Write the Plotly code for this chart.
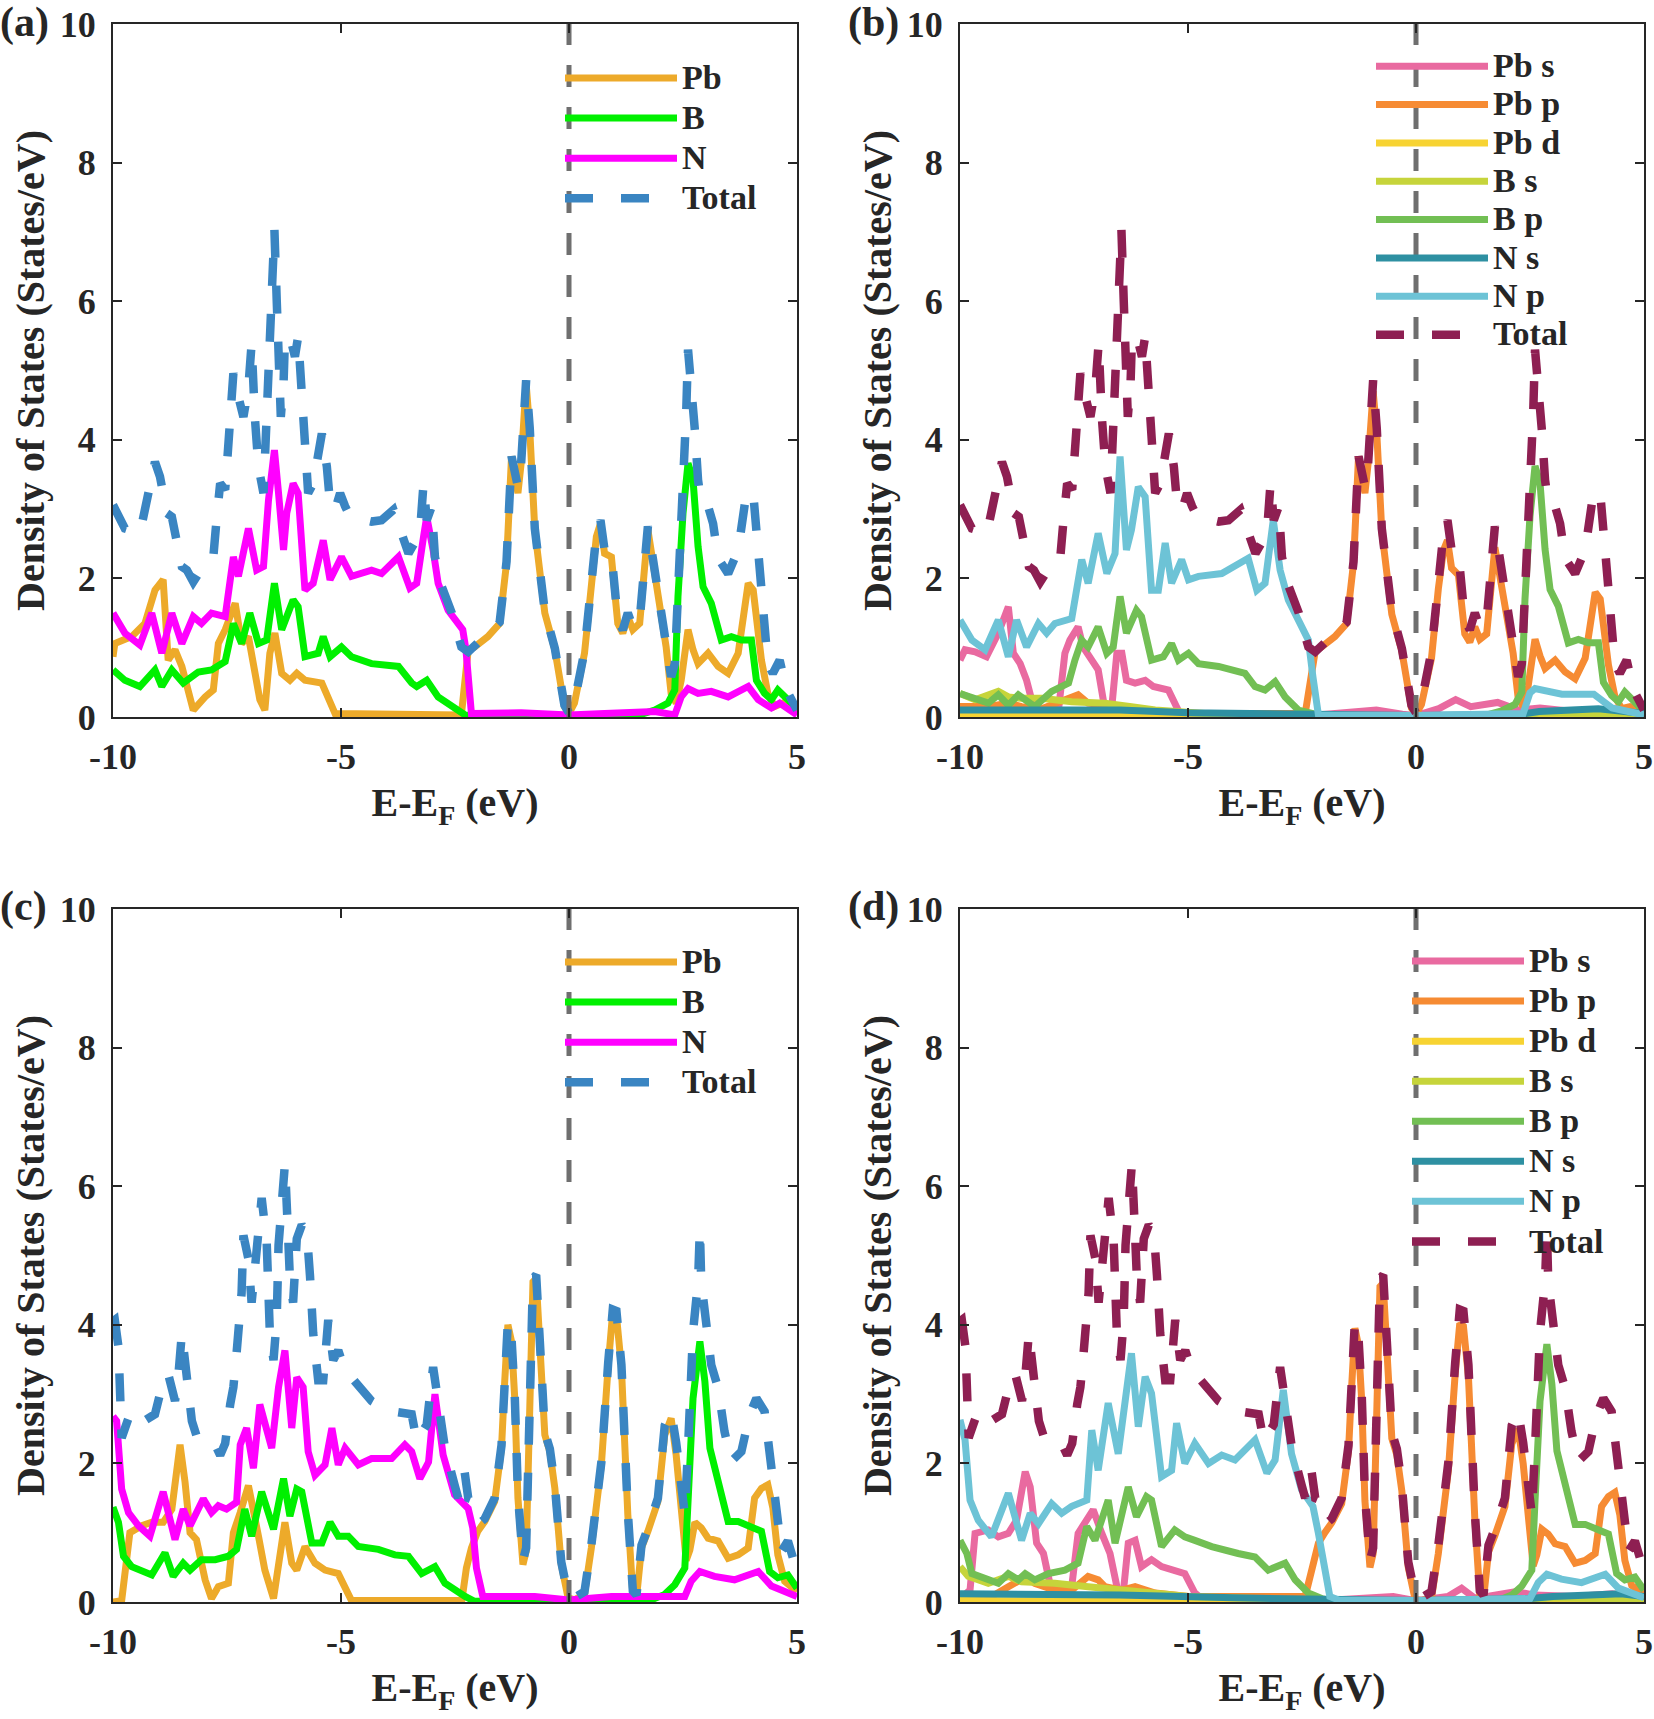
import plotly.graph_objects as go

# ---------------- data ----------------
# panel (a): elemental PDOS, structure 1
A_PB_E = [-10, -9.96, -9.59, -9.30, -9.08, -8.90, -8.79, -8.64, -8.49, -8.24, -7.98, -7.80, -7.69, -7.54,
          -7.32, -7.18, -7.03, -6.92, -6.78, -6.67, -6.56, -6.45, -6.30, -6.12, -5.97, -5.79, -5.42, -5.13,
          -2.50, -2.36, -2.21, -2.07, -1.78, -1.52, -1.37, -1.26, -1.12, -1.05, -0.94, -0.86, -0.75, -0.53,
          -0.31, -0.10, 0.0, 0.12, 0.34, 0.49, 0.60, 0.69, 0.78, 0.93, 1.07, 1.18, 1.29, 1.40, 1.55, 1.73,
          1.84, 1.95, 2.13, 2.24, 2.35, 2.46, 2.61, 2.72, 2.83, 3.05, 3.27, 3.49, 3.71, 3.93, 4.04, 4.22,
          4.36, 4.51, 4.69, 5.0]
A_PB = [0.87, 1.06, 1.16, 1.35, 1.83, 1.98, 0.82, 0.97, 0.73, 0.10, 0.29, 0.39, 1.06, 1.26,
        1.64, 1.06, 1.16, 0.77, 0.25, 0.10, 0.92, 1.21, 0.63, 0.53, 0.63, 0.53, 0.49, 0.05,
        0.05, 0.03, 0.97, 1.01, 1.16, 1.35, 2.22, 3.76, 3.23, 3.66, 4.81, 4.14, 2.70, 1.50,
        0.97, 0.15, 0.05, 0.20, 0.92, 1.98, 2.60, 2.79, 2.36, 2.31, 1.35, 1.21, 1.45, 1.26, 1.35, 2.70,
        2.22, 1.78, 1.01, 0.34, 0.20, 0.53, 1.26, 0.97, 0.77, 0.92, 0.73, 0.63, 0.92, 1.93, 1.83, 0.82,
        0.34, 0.15, 0.20, 0.10]

A_B_E = [-10, -9.74, -9.41, -9.08, -8.93, -8.71, -8.46, -8.13, -7.84, -7.54, -7.36, -7.18, -7.00, -6.81,
         -6.63, -6.46, -6.30, -6.05, -5.94, -5.79, -5.50, -5.39, -5.24, -4.99, -4.77, -4.33, -3.74, -3.45,
         -3.34, -3.12, -2.87, -2.57, -2.28, -2.10, 0.0, 1.50, 1.88, 2.17, 2.32, 2.39, 2.50, 2.61, 2.72,
         2.83, 2.94, 3.12, 3.34, 3.56, 3.78, 4.00, 4.11, 4.29, 4.44, 4.58, 4.80, 5.0]
A_B = [0.68, 0.53, 0.44, 0.68, 0.44, 0.68, 0.49, 0.65, 0.68, 0.80, 1.35, 1.06, 1.50, 1.06,
       1.11, 1.93, 1.26, 1.69, 1.59, 0.87, 0.92, 1.16, 0.87, 1.01, 0.87, 0.77, 0.73, 0.49,
       0.44, 0.53, 0.29, 0.15, 0.03, 0.01, 0.01, 0.02, 0.10, 0.20, 0.39, 1.74, 2.94, 3.66, 3.42,
       2.46, 1.88, 1.64, 1.11, 1.16, 1.11, 1.11, 0.53, 0.34, 0.25, 0.39, 0.25, 0.10]

A_N_E = [-10, -9.74, -9.41, -9.15, -8.93, -8.71, -8.49, -8.24, -8.06, -7.84, -7.54, -7.36, -7.25, -7.03,
         -6.85, -6.70, -6.59, -6.46, -6.37, -6.26, -6.19, -6.05, -5.94, -5.79, -5.61, -5.39, -5.24, -4.99,
         -4.77, -4.33, -4.11, -3.74, -3.49, -3.34, -3.19, -3.12, -2.98, -2.87, -2.65, -2.45, -2.33, -2.26,
         -2.14, -1.05, 0.0, 0.78, 1.88, 2.32, 2.46, 2.61, 2.83, 3.12, 3.49, 3.93, 4.15, 4.44, 4.62, 5.0]
A_N = [1.50, 1.21, 1.04, 1.50, 0.92, 1.50, 1.06, 1.45, 1.35, 1.50, 1.45, 2.31, 2.03, 2.72,
       2.12, 2.17, 3.13, 3.85, 3.23, 2.41, 2.94, 3.37, 3.23, 1.83, 1.93, 2.55, 1.98, 2.31,
       2.03, 2.12, 2.07, 2.31, 1.86, 1.93, 2.60, 2.89, 2.41, 1.93, 1.54, 1.38, 1.26, 0.97,
       0.05, 0.06, 0.03, 0.05, 0.08, 0.03, 0.29, 0.41, 0.34, 0.37, 0.29, 0.44, 0.25, 0.13, 0.20, 0.03]

A_TOT_E = [-10, -9.74, -9.41, -9.23, -9.08, -8.97, -8.82, -8.71, -8.57, -8.49, -8.38, -8.24, -7.98, -7.80,
           -7.73, -7.65, -7.54, -7.47, -7.36, -7.25, -7.14, -7.03, -6.96, -6.89, -6.81, -6.70, -6.61, -6.58,
           -6.52, -6.46, -6.41, -6.37, -6.32, -6.26, -6.23, -6.12, -6.01, -5.94, -5.86, -5.79, -5.72, -5.61,
           -5.50, -5.42, -5.31, -5.24, -5.13, -5.02, -4.91, -4.80, -4.33, -4.11, -3.85, -3.67, -3.52, -3.27,
           -3.19, -3.12, -3.01, -2.94, -2.79, -2.57, -2.36, -2.21, -2.07, -1.78, -1.52, -1.37, -1.26, -1.12,
           -1.05, -0.94, -0.86, -0.75, -0.53, -0.31, -0.10, 0.0, 0.12, 0.34, 0.49, 0.60, 0.69, 0.78, 0.93,
           1.07, 1.18, 1.29, 1.40, 1.55, 1.73, 1.84, 1.95, 2.13, 2.24, 2.32, 2.43, 2.50, 2.57, 2.61, 2.68,
           2.76, 2.83, 2.90, 3.05, 3.16, 3.27, 3.49, 3.71, 3.89, 4.04, 4.15, 4.25, 4.36, 4.47, 4.62, 4.77, 5.0]
A_TOT = [3.06, 2.72, 2.65, 3.23, 3.68, 3.47, 2.94, 2.89, 2.41, 2.17, 2.12, 1.95, 2.22, 2.31,
         2.84, 3.37, 3.28, 3.90, 4.96, 4.62, 4.33, 4.77, 5.39, 4.33, 3.61, 3.23, 4.67, 5.44,
         6.40, 7.03, 6.02, 5.15, 4.33, 4.81, 5.44, 5.49, 5.20, 5.49, 4.57, 3.71, 3.23, 3.37,
         3.90, 4.09, 3.61, 3.08, 2.99, 3.23, 3.04, 2.89, 2.82, 2.84, 2.99, 2.65, 2.36, 2.65,
         3.37, 2.84, 3.04, 2.31, 1.88, 1.50, 1.01, 0.94, 1.03, 1.18, 1.37, 2.24, 3.76, 3.32,
         3.66, 4.86, 4.16, 2.72, 1.52, 0.99, 0.17, 0.06, 0.22, 0.95, 2.02, 2.64, 2.84, 2.41, 2.36,
         1.40, 1.26, 1.50, 1.30, 1.40, 2.75, 2.31, 1.84, 1.11, 0.58, 0.77, 2.22, 3.42, 4.38, 5.30, 4.86,
         4.14, 3.42, 3.08, 3.04, 2.79, 2.29, 2.07, 2.41, 3.23, 3.23, 2.31, 1.50, 0.77, 0.63, 0.82, 0.39, 0.10]

# panel (b): orbital PDOS, structure 1 (total is the same curve as panel a)
B_PBS_E = [-10, -9.89, -9.67, -9.42, -9.16, -8.94, -8.83, -8.68, -8.54, -8.39, -8.21, -7.84, -7.70, -7.59,
           -7.41, -7.30, -7.11, -6.97, -6.82, -6.67, -6.56, -6.45, -6.35, -6.16, -5.94, -5.76, -5.43, -5.29,
           -5.18, -2.30, -0.87, -0.30, 0.0, 0.50, 0.87, 1.20, 1.79, 2.25, 2.72, 3.87, 5.0]
B_PBS = [0.82, 0.97, 0.94, 0.87, 1.21, 1.59, 0.92, 0.77, 0.53, 0.15, 0.10, 0.10, 0.92, 1.11,
         1.30, 1.01, 0.82, 0.68, 0.10, 0.15, 0.92, 0.92, 0.53, 0.49, 0.53, 0.44, 0.39, 0.20,
         0.05, 0.02, 0.10, 0.04, 0.02, 0.12, 0.25, 0.15, 0.21, 0.10, 0.13, 0.05, 0.03]

B_PBP_E = [-10, -9.38, -8.94, -8.65, -8.21, -7.41, -7.19, -6.45, -6.09, -4.99, -2.43, -2.29, -2.21, -2.07,
           -1.78, -1.52, -1.37, -1.26, -1.12, -1.05, -0.94, -0.86, -0.75, -0.53, -0.31, -0.10, 0.0, 0.12,
           0.34, 0.49, 0.60, 0.69, 0.78, 0.93, 1.07, 1.18, 1.29, 1.40, 1.55, 1.73, 1.84, 1.95, 2.13, 2.24,
           2.35, 2.46, 2.61, 2.72, 2.83, 3.05, 3.27, 3.49, 3.71, 3.93, 4.04, 4.22, 4.36, 4.51, 4.69, 5.0]
B_PBP = [0.15, 0.15, 0.20, 0.15, 0.12, 0.32, 0.20, 0.15, 0.10, 0.05, 0.05, 0.68, 0.95, 1.01,
         1.16, 1.35, 2.22, 3.76, 3.23, 3.66, 4.70, 4.10, 2.68, 1.48, 0.95, 0.13, 0.04, 0.18,
         0.85, 1.85, 2.40, 2.55, 2.15, 2.05, 1.20, 1.08, 1.30, 1.12, 1.20, 2.45, 2.00, 1.60, 0.92, 0.28,
         0.15, 0.45, 1.12, 0.88, 0.70, 0.82, 0.65, 0.55, 0.85, 1.80, 1.70, 0.75, 0.30, 0.12, 0.15, 0.06]

B_PBD_E = [-10, -5, 0, 3, 4, 4.5, 5]
B_PBD = [0.02, 0.02, 0.01, 0.02, 0.05, 0.03, 0.02]

B_BS_E = [-10, -9.67, -9.16, -8.94, -8.65, -8.21, -7.55, -6.82, -6.24, -5.72, -4.63, -2.43, -2.0, 2.3,
          2.7, 4.0, 5.0]
B_BS = [0.34, 0.25, 0.37, 0.29, 0.27, 0.27, 0.22, 0.20, 0.15, 0.10, 0.05, 0.03, 0.01, 0.01,
        0.06, 0.05, 0.02]

B_BP_E = [-10, -9.38, -9.16, -8.94, -8.72, -8.36, -7.99, -7.62, -7.48, -7.33, -7.19, -6.97, -6.78, -6.64,
          -6.49, -6.35, -6.13, -6.02, -5.80, -5.54, -5.36, -5.21, -4.99, -4.77, -4.33, -3.75, -3.53, -3.31,
          -3.09, -2.87, -2.58, -2.21, -2.0, 1.5, 1.88, 2.17, 2.32, 2.39, 2.50, 2.61, 2.72, 2.83, 2.94, 3.12,
          3.34, 3.56, 3.78, 4.0, 4.11, 4.29, 4.44, 4.58, 4.80, 5.0]
B_BP = [0.34, 0.20, 0.32, 0.17, 0.32, 0.15, 0.37, 0.49, 0.82, 1.11, 1.01, 1.30, 0.92, 1.01,
        1.74, 1.21, 1.54, 1.45, 0.82, 0.87, 1.06, 0.82, 0.92, 0.77, 0.73, 0.63, 0.44, 0.39,
        0.51, 0.29, 0.10, 0.03, 0.01, 0.02, 0.09, 0.18, 0.36, 1.70, 2.90, 3.62, 3.38, 2.42, 1.84, 1.60,
        1.07, 1.12, 1.07, 1.07, 0.50, 0.31, 0.22, 0.36, 0.22, 0.08]

B_NS_E = [-10, -6.5, -5, -2, 0, 2.3, 2.7, 4.0, 4.5, 5]
B_NS = [0.10, 0.10, 0.06, 0.04, 0.02, 0.04, 0.08, 0.12, 0.08, 0.05]

B_NP_E = [-10, -9.74, -9.45, -9.16, -8.94, -8.76, -8.54, -8.28, -8.10, -7.92, -7.55, -7.33, -7.19, -6.97,
          -6.78, -6.60, -6.49, -6.35, -6.24, -6.09, -5.94, -5.80, -5.65, -5.50, -5.36, -5.14, -4.99, -4.77,
          -4.26, -3.90, -3.68, -3.49, -3.31, -3.13, -2.98, -2.80, -2.58, -2.36, -2.26, -2.14, 0.0, 2.0,
          2.35, 2.50, 2.61, 3.2, 3.9, 4.3, 5.0]
B_NP = [1.40, 1.11, 0.97, 1.40, 0.87, 1.40, 1.01, 1.35, 1.21, 1.35, 1.42, 2.27, 1.93, 2.65,
        2.07, 2.36, 3.76, 2.41, 2.70, 3.32, 3.18, 1.83, 1.83, 2.51, 1.93, 2.27, 1.98, 2.03,
        2.07, 2.22, 2.29, 1.83, 1.93, 2.84, 2.12, 1.69, 1.40, 1.11, 0.58, 0.03, 0.02, 0.03,
        0.05, 0.35, 0.41, 0.33, 0.33, 0.13, 0.03]

# panel (c): elemental PDOS, structure 2
C_PB_E = [-10, -9.81, -9.63, -9.37, -9.15, -8.90, -8.71, -8.53, -8.42, -8.31, -8.17, -7.98, -7.84, -7.69,
          -7.47, -7.36, -7.21, -7.03, -6.81, -6.67, -6.48, -6.34, -6.23, -6.08, -5.97, -5.79, -5.57, -5.35,
          -5.06, -4.77, -2.35, -2.25, -2.14, -2.0, -1.85, -1.63, -1.48, -1.41, -1.34, -1.26, -1.19, -1.12,
          -1.01, -0.94, -0.86, -0.79, -0.72, -0.64, -0.53, -0.42, -0.31, -0.17, -0.02, 0.12, 0.34, 0.49,
          0.71, 0.86, 0.96, 1.04, 1.15, 1.29, 1.40, 1.48, 1.59, 1.73, 1.95, 2.10, 2.24, 2.35, 2.46, 2.57,
          2.65, 2.76, 2.90, 3.05, 3.27, 3.49, 3.71, 3.93, 4.07, 4.22, 4.36, 4.47, 4.58, 4.73, 5.0]
C_PB = [0.0, 0.02, 1.0, 1.10, 1.15, 1.15, 1.34, 2.27, 1.73, 1.0, 0.90, 0.32, 0.05, 0.22,
        0.27, 1.0, 1.29, 1.68, 0.95, 0.46, 0.05, 0.61, 1.15, 0.56, 0.46, 0.80, 0.56, 0.46,
        0.41, 0.02, 0.02, 0.49, 0.78, 1.02, 1.16, 1.45, 2.22, 3.18, 4.0, 3.76, 2.94, 1.50,
        0.54, 0.73, 2.70, 4.62, 4.67, 3.66, 2.41, 2.17, 1.64, 0.54, 0.06, 0.03, 0.11, 0.78,
        1.98, 3.42, 4.19, 4.14, 3.38, 1.26, 0.11, 0.06, 0.78, 1.02, 1.45, 2.41, 2.65, 2.12, 1.26, 0.60,
        0.75, 1.15, 1.07, 0.92, 0.88, 0.63, 0.68, 0.78, 1.50, 1.64, 1.69, 1.36, 0.68, 0.30, 0.15]

C_B_E = [-10, -9.88, -9.77, -9.59, -9.15, -8.86, -8.68, -8.46, -8.31, -8.06, -7.76, -7.47, -7.29, -7.11,
         -6.96, -6.74, -6.48, -6.26, -6.12, -5.97, -5.86, -5.64, -5.42, -5.24, -5.06, -4.84, -4.62, -4.18,
         -3.82, -3.52, -3.23, -2.94, -2.72, -2.50, -2.28, -2.07, 1.8, 2.10, 2.32, 2.54, 2.61, 2.72, 2.87,
         2.98, 3.09, 3.27, 3.49, 3.71, 4.0, 4.22, 4.40, 4.58, 4.80, 5.0]
C_B = [1.37, 1.15, 0.66, 0.51, 0.39, 0.71, 0.37, 0.56, 0.46, 0.61, 0.61, 0.66, 0.76, 1.34,
       0.95, 1.59, 1.05, 1.78, 1.24, 1.63, 1.59, 0.85, 0.85, 1.15, 0.95, 0.95, 0.80, 0.76,
       0.68, 0.66, 0.41, 0.51, 0.27, 0.17, 0.08, 0.01, 0.03, 0.11, 0.25, 0.49, 1.50, 2.94, 3.76,
       3.18, 2.22, 1.74, 1.16, 1.16, 1.07, 1.02, 0.44, 0.35, 0.39, 0.20]

C_N_E = [-10, -9.92, -9.81, -9.66, -9.44, -9.19, -8.90, -8.71, -8.64, -8.46, -8.31, -8.02, -7.84, -7.69,
         -7.51, -7.29, -7.21, -7.07, -6.92, -6.78, -6.52, -6.37, -6.23, -6.08, -5.97, -5.83, -5.72, -5.57,
         -5.35, -5.20, -5.06, -4.91, -4.62, -4.33, -3.89, -3.60, -3.45, -3.27, -3.08, -2.94, -2.76, -2.51,
         -2.32, -2.21, -2.11, -2.03, -1.89, -0.75, 0.0, 0.93, 2.54, 2.68, 2.87, 3.19, 3.63, 4.15, 4.44,
         4.73, 5.0]
C_N = [2.68, 2.61, 1.63, 1.29, 1.10, 0.95, 1.59, 1.0, 0.90, 1.34, 1.10, 1.49, 1.29, 1.39,
       1.34, 1.44, 2.27, 2.51, 1.93, 2.85, 2.22, 3.10, 3.63, 2.51, 3.24, 3.10, 2.17, 1.83,
       1.98, 2.51, 1.98, 2.22, 1.98, 2.07, 2.07, 2.27, 2.17, 1.78, 2.02, 3.0, 2.12, 1.55,
       1.40, 1.35, 1.07, 0.49, 0.08, 0.08, 0.03, 0.08, 0.08, 0.30, 0.44, 0.37, 0.32, 0.44, 0.23,
       0.15, 0.08]

C_TOT_E = [-10, -9.96, -9.88, -9.85, -9.81, -9.63, -9.44, -9.08, -8.97, -8.79, -8.64, -8.57, -8.49, -8.38,
           -8.27, -8.13, -7.76, -7.65, -7.54, -7.43, -7.36, -7.29, -7.18, -7.14, -7.03, -6.96, -6.85, -6.74,
           -6.63, -6.59, -6.56, -6.48, -6.41, -6.37, -6.30, -6.23, -6.17, -6.12, -6.05, -5.97, -5.86, -5.75,
           -5.68, -5.61, -5.50, -5.39, -5.28, -5.17, -5.06, -4.91, -4.77, -4.33, -3.96, -3.45, -3.34, -3.12,
           -2.98, -2.87, -2.72, -2.51, -2.43, -2.29, -2.21, -2.03, -1.92, -1.85, -1.63, -1.48, -1.41, -1.34,
           -1.26, -1.19, -1.12, -1.01, -0.94, -0.86, -0.79, -0.72, -0.64, -0.53, -0.42, -0.31, -0.17, -0.02,
           0.12, 0.34, 0.49, 0.71, 0.86, 0.96, 1.04, 1.15, 1.29, 1.40, 1.48, 1.59, 1.73, 1.95, 2.10, 2.24,
           2.35, 2.46, 2.54, 2.61, 2.68, 2.72, 2.83, 2.87, 2.90, 3.01, 3.12, 3.27, 3.41, 3.56, 3.78, 3.96,
           4.11, 4.29, 4.44, 4.55, 4.66, 4.80, 5.0]
C_TOT = [4.05, 4.07, 3.68, 3.10, 2.37, 2.71, 2.56, 2.71, 3.0, 3.29, 2.90, 3.24, 3.88, 3.24,
         2.61, 2.32, 2.27, 2.12, 2.29, 2.85, 3.10, 3.59, 4.46, 5.29, 4.95, 4.32, 5.15, 5.83,
         5.20, 4.46, 3.88, 3.49, 4.07, 5.15, 6.02, 6.32, 5.44, 4.66, 4.32, 5.24, 5.44, 5.34,
         4.71, 3.88, 3.20, 3.20, 4.07, 3.49, 3.63, 3.34, 3.24, 2.90, 2.76, 2.71, 2.32, 2.56,
         3.39, 2.85, 2.22, 1.69, 1.50, 1.88, 1.50, 1.45, 1.16, 1.20, 1.50, 2.26, 3.22, 4.05,
         3.80, 2.98, 1.55, 0.60, 0.78, 2.75, 4.67, 4.72, 3.70, 2.45, 2.21, 1.68, 0.58, 0.10,
         0.06, 0.15, 0.82, 2.02, 3.46, 4.22, 4.20, 3.42, 1.30, 0.16, 0.10, 0.82, 1.06, 1.50, 2.55, 2.75,
         2.30, 1.64, 1.26, 2.22, 3.18, 3.90, 4.62, 5.39, 4.62, 3.90, 3.42, 3.09, 2.46, 2.03, 2.17, 2.70,
         2.94, 2.75, 1.98, 1.40, 0.73, 0.88, 0.44]

# panel (d): orbital PDOS, structure 2 (total is the same curve as panel c)
D_PBS_E = [-10, -9.78, -9.67, -9.38, -9.16, -8.94, -8.76, -8.57, -8.46, -8.32, -8.17, -8.03, -7.84, -7.55,
           -7.41, -7.22, -7.08, -6.89, -6.71, -6.53, -6.42, -6.31, -6.16, -6.02, -5.80, -5.58, -5.29, -5.07,
           -4.85, -4.70, -2.0, -0.5, 0.0, 0.7, 1.0, 1.3, 2.2, 2.6, 3.5, 4.3, 5.0]
D_PBS = [0.05, 0.17, 0.99, 1.04, 0.94, 0.99, 1.18, 1.88, 1.66, 0.85, 0.70, 0.27, 0.13, 0.22,
         0.99, 1.18, 1.33, 0.99, 0.70, 0.13, 0.13, 0.85, 0.89, 0.51, 0.61, 0.51, 0.46, 0.41,
         0.13, 0.05, 0.02, 0.08, 0.02, 0.08, 0.20, 0.05, 0.15, 0.10, 0.08, 0.12, 0.05]

D_PBP_E = [-10, -9.38, -8.94, -8.54, -8.36, -7.92, -7.55, -7.19, -6.97, -6.82, -6.45, -6.16, -5.72, -4.99,
           -2.43, -2.29, -2.14, -2.0, -1.85, -1.63, -1.48, -1.41, -1.34, -1.26, -1.19, -1.12, -1.01, -0.94,
           -0.86, -0.79, -0.72, -0.64, -0.53, -0.42, -0.31, -0.17, -0.02, 0.12, 0.34, 0.49, 0.71, 0.86,
           0.96, 1.04, 1.15, 1.29, 1.40, 1.48, 1.59, 1.73, 1.95, 2.10, 2.24, 2.35, 2.46, 2.57, 2.65, 2.76,
           2.90, 3.05, 3.27, 3.49, 3.71, 3.93, 4.07, 4.22, 4.36, 4.47, 4.58, 4.73, 5.0]
D_PBP = [0.03, 0.05, 0.22, 0.37, 0.27, 0.17, 0.17, 0.37, 0.32, 0.22, 0.17, 0.22, 0.13, 0.08,
         0.08, 0.41, 0.85, 1.00, 1.14, 1.42, 2.18, 3.12, 3.95, 3.70, 2.90, 1.46, 0.50, 0.70,
         2.65, 4.55, 4.60, 3.60, 2.36, 2.12, 1.60, 0.50, 0.04, 0.02, 0.06, 0.70, 1.90, 3.30,
         4.02, 3.98, 3.25, 1.20, 0.08, 0.04, 0.72, 0.96, 1.38, 2.28, 2.50, 2.00, 1.15, 0.52, 0.68, 1.05,
         0.98, 0.84, 0.80, 0.56, 0.60, 0.70, 1.38, 1.52, 1.58, 1.26, 0.60, 0.24, 0.10]

D_PBD_E = [-10, 0, 4, 5]
D_PBD = [0.02, 0.01, 0.04, 0.02]

D_BS_E = [-10, -9.82, -9.38, -8.94, -8.65, -7.92, -7.19, -6.45, -6.02, -4.99, -3.53, -2.0, 2.5, 2.9,
          4.0, 5.0]
D_BS = [0.51, 0.37, 0.27, 0.37, 0.29, 0.27, 0.22, 0.17, 0.13, 0.08, 0.05, 0.01, 0.01, 0.06,
        0.05, 0.03]

D_BP_E = [-10, -9.85, -9.74, -9.38, -9.16, -8.94, -8.72, -8.57, -8.36, -8.06, -7.70, -7.41, -7.22, -7.04,
          -6.75, -6.60, -6.31, -6.13, -5.91, -5.80, -5.58, -5.29, -5.07, -4.85, -4.48, -3.90, -3.53, -3.24,
          -2.87, -2.65, -2.36, -2.07, -1.8, 1.8, 2.10, 2.32, 2.54, 2.61, 2.72, 2.87, 2.98, 3.09, 3.27, 3.49,
          3.71, 4.0, 4.22, 4.40, 4.58, 4.80, 5.0]
D_BP = [0.89, 0.70, 0.41, 0.32, 0.27, 0.41, 0.32, 0.41, 0.32, 0.41, 0.46, 0.56, 1.09, 0.89,
        1.47, 0.85, 1.66, 1.23, 1.52, 1.47, 0.80, 1.04, 0.94, 0.89, 0.80, 0.70, 0.65, 0.46,
        0.56, 0.32, 0.13, 0.05, 0.01, 0.02, 0.10, 0.23, 0.46, 1.46, 2.90, 3.72, 3.14, 2.18, 1.70, 1.12,
        1.12, 1.03, 0.98, 0.41, 0.32, 0.36, 0.17]

D_NS_E = [-10, -6.5, -4, -1.8, 0, 2.5, 3.0, 4.5, 5.0]
D_NS = [0.12, 0.10, 0.06, 0.05, 0.02, 0.05, 0.08, 0.12, 0.08]

D_NP_E = [-10, -9.89, -9.78, -9.60, -9.31, -8.94, -8.65, -8.46, -8.28, -7.99, -7.77, -7.55, -7.22, -7.11,
          -6.97, -6.75, -6.53, -6.31, -6.24, -6.09, -5.94, -5.80, -5.58, -5.36, -5.25, -5.07, -4.85, -4.55,
          -4.26, -3.97, -3.53, -3.27, -3.09, -2.91, -2.73, -2.51, -2.26, -2.14, -2.0, -1.89, -1.70, 0.0,
          2.5, 2.68, 2.87, 3.19, 3.63, 4.15, 4.44, 4.73, 5.0]
D_NP = [2.63, 2.34, 1.47, 1.18, 0.94, 1.57, 0.89, 1.28, 1.13, 1.42, 1.28, 1.38, 1.47, 2.48,
        1.90, 2.87, 2.14, 3.30, 3.59, 2.53, 3.25, 3.01, 1.81, 1.90, 2.58, 2.0, 2.29, 2.0,
        2.12, 2.05, 2.34, 1.86, 2.05, 3.06, 2.14, 1.62, 1.38, 0.99, 0.51, 0.08, 0.03, 0.02,
        0.05, 0.28, 0.40, 0.33, 0.28, 0.40, 0.20, 0.12, 0.06]

E_RANGE = [-10, 5]
DOS_RANGE = [0, 10]
X_TICKS = [-10, -5, 0, 5]
X_TICK_TEXT = ["-10", "-5", "0", "5"]
Y_TICKS = [0, 2, 4, 6, 8, 10]
FERMI = 0

# ---------------- styling ----------------
SERIF = "Liberation Serif"
INK = "#262626"
W, H = 1654, 1719
SOLID_W = 7
TOTAL_W = 8.5

# pixel boxes of the four plot areas: (left, right, top, bottom)
BOXES = {1: (113, 797, 24, 717), 2: (960, 1644, 24, 717),
         3: (113, 797, 909, 1602), 4: (960, 1644, 909, 1602)}

fig = go.Figure()

panels = [
    (1, "legend", [("Pb", A_PB_E, A_PB, "#EDAA2A"), ("B", A_B_E, A_B, "#00F000"),
                   ("N", A_N_E, A_N, "#FF00FF")], (A_TOT_E, A_TOT, "#3A85C2")),
    (2, "legend2", [("Pb s", B_PBS_E, B_PBS, "#E96AA0"), ("Pb p", B_PBP_E, B_PBP, "#F68B33"),
                    ("Pb d", B_PBD_E, B_PBD, "#F7D332"), ("B s", B_BS_E, B_BS, "#C6D43B"),
                    ("B p", B_BP_E, B_BP, "#72BF54"), ("N s", B_NS_E, B_NS, "#2E90A2"),
                    ("N p", B_NP_E, B_NP, "#6DC3D6")], (A_TOT_E, A_TOT, "#8E1F52")),
    (3, "legend3", [("Pb", C_PB_E, C_PB, "#EDAA2A"), ("B", C_B_E, C_B, "#00F000"),
                    ("N", C_N_E, C_N, "#FF00FF")], (C_TOT_E, C_TOT, "#3A85C2")),
    (4, "legend4", [("Pb s", D_PBS_E, D_PBS, "#E96AA0"), ("Pb p", D_PBP_E, D_PBP, "#F68B33"),
                    ("Pb d", D_PBD_E, D_PBD, "#F7D332"), ("B s", D_BS_E, D_BS, "#C6D43B"),
                    ("B p", D_BP_E, D_BP, "#72BF54"), ("N s", D_NS_E, D_NS, "#2E90A2"),
                    ("N p", D_NP_E, D_NP, "#6DC3D6")], (C_TOT_E, C_TOT, "#8E1F52")),
]


def leg_label(s):
    # legend rows are spaced by the legend font size; the shown text is a bit larger
    return f'<span style="font-size:34px">{s}</span>'


for k, leg, parts, (te, tv, tcol) in panels:
    xa = "x" if k == 1 else f"x{k}"
    ya = "y" if k == 1 else f"y{k}"
    for name, e, v, col in parts:
        fig.add_trace(go.Scatter(x=e, y=v, mode="lines", name=leg_label(name), legend=leg,
                                 xaxis=xa, yaxis=ya, line=dict(color=col, width=SOLID_W)))
    fig.add_trace(go.Scatter(x=te, y=tv, mode="lines", name=leg_label("Total"), legend=leg,
                             xaxis=xa, yaxis=ya,
                             line=dict(color=tcol, width=TOTAL_W, dash="28px,28px")))
    fig.add_trace(go.Scatter(x=[FERMI, FERMI], y=DOS_RANGE, mode="lines", showlegend=False,
                             xaxis=xa, yaxis=ya, hoverinfo="skip",
                             line=dict(color="#6F6F6F", width=5, dash="22px,20px")))

tick_font = dict(family=SERIF, size=36, color=INK, weight="bold")
title_font = dict(family=SERIF, size=40, color=INK, weight="bold")

layout = dict(width=W, height=H, margin=dict(l=0, r=0, t=0, b=0, autoexpand=False),
              paper_bgcolor="white", plot_bgcolor="white", annotations=[])

for k, (l, r, t, b) in BOXES.items():
    sx = "" if k == 1 else str(k)
    common = dict(showgrid=False, zeroline=False, showline=True, linecolor=INK, linewidth=2,
                  mirror="ticks", ticks="inside", ticklen=9, tickwidth=2, tickcolor=INK,
                  tickfont=tick_font, automargin=False)
    layout["xaxis" + sx] = dict(common, domain=[l / W, r / W], range=E_RANGE, tickvals=X_TICKS,
                                ticktext=X_TICK_TEXT, anchor="y" + sx, ticklabelstandoff=7,
                                title=dict(text="E-E<sub>F</sub> (eV)", font=title_font, standoff=12))
    layout["yaxis" + sx] = dict(common, domain=[1 - b / H, 1 - t / H], range=DOS_RANGE,
                                tickvals=Y_TICKS, anchor="x" + sx, ticklabelstandoff=8,
                                title=dict(text="Density of States (States/eV)", font=title_font,
                                           standoff=3))

leg_pos = {"legend": (560, 53, 28.5), "legend2": (1371, 42, 27.2),
           "legend3": (560, 937, 28.5), "legend4": (1407, 936, 28.5)}
for name, (px, py, fs) in leg_pos.items():
    layout[name] = dict(x=px / W, y=1 - py / H, xanchor="left", yanchor="top",
                        font=dict(family=SERIF, size=fs, color=INK, weight="bold"),
                        bgcolor="rgba(0,0,0,0)", borderwidth=0, itemwidth=112, tracegroupgap=0)

for lab, (px, py) in zip(["(a)", "(b)", "(c)", "(d)"], [(-2, -3), (846, -3), (-2, 881), (846, 881)]):
    layout["annotations"].append(dict(text=lab, x=px / W, y=1 - py / H, xref="paper", yref="paper",
                                      xanchor="left", yanchor="top", showarrow=False,
                                      font=dict(family=SERIF, size=42, color=INK, weight="bold")))

fig.update_layout(**layout)
# the page is exactly the figure size: drop the default body margin so nothing scrolls
fig.write_html("out.html", config={"displayModeBar": False},
               post_script="document.body.style.margin='0';document.body.style.overflow='hidden';")
